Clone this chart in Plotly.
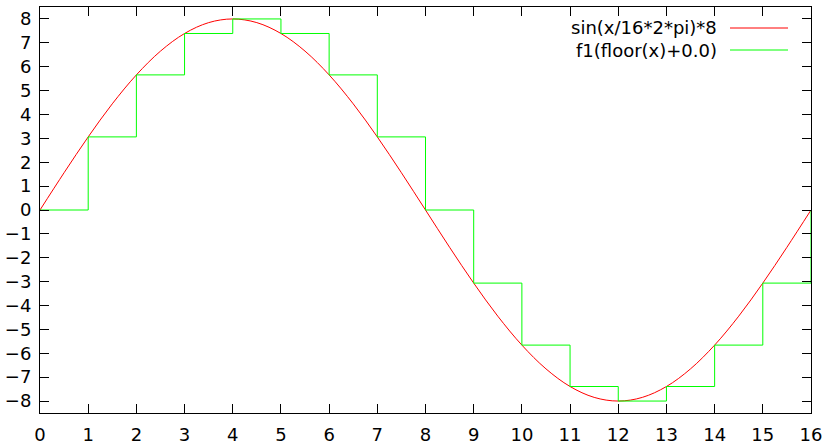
import plotly.graph_objects as go

# sine curve samples (x step 0.5)
sine_x = [i * 0.5 for i in range(33)]
sine_y = [0, 1.561, 3.061, 4.445, 5.657, 6.652, 7.391, 7.846, 8,
          7.846, 7.391, 6.652, 5.657, 4.445, 3.061, 1.561, 0,
          -1.561, -3.061, -4.445, -5.657, -6.652, -7.391, -7.846, -8,
          -7.846, -7.391, -6.652, -5.657, -4.445, -3.061, -1.561, 0]

# step values f1(floor(x))
step_x = list(range(17))
step_y = [0, 3.061, 5.657, 7.391, 8, 7.391, 5.657, 3.061, 0,
          -3.061, -5.657, -7.391, -8, -7.391, -5.657, -3.061, 0]

legend_labels = ["sin(x/16*2*pi)*8", "f1(floor(x)+0.0)"]
colors = ["#ff0000", "#00ff00"]

x_ticks = list(range(0, 17))
y_ticks = list(range(-8, 9))

fig = go.Figure()
fig.add_trace(go.Scatter(x=sine_x, y=sine_y, mode="lines",
                         line=dict(color=colors[0], width=1, shape="spline", smoothing=1.0),
                         showlegend=False, hoverinfo="skip"))
fig.add_trace(go.Scatter(x=step_x, y=step_y, mode="lines",
                         line=dict(color=colors[1], width=1, shape="hv"),
                         showlegend=False, hoverinfo="skip"))

font = dict(family="DejaVu Sans", size=18, color="black")

# manual gnuplot-style legend
for i, (lab, col) in enumerate(zip(legend_labels, colors)):
    ypix = 28 + 22 * i
    yp = 1 - (ypix - 7) / (413 - 7)
    fig.add_annotation(x=(719 - 40) / (811 - 40), y=yp, xref="paper", yref="paper",
                       text=lab, showarrow=False, xanchor="right", yanchor="middle",
                       font=font)
    fig.add_shape(type="line", xref="paper", yref="paper",
                  x0=(730 - 40) / (811 - 40), x1=(788 - 40) / (811 - 40), y0=yp, y1=yp,
                  line=dict(color=col, width=1))

axis_common = dict(showgrid=False, zeroline=False, ticks="inside", ticklen=9,
                   tickwidth=1, tickcolor="black", showline=True, linecolor="black",
                   linewidth=1, mirror="allticks", tickfont=font, automargin=False,
                   layer="above traces")

fig.update_xaxes(range=[0, 16], tickvals=x_ticks, ticklabelstandoff=5, **axis_common)
fig.update_yaxes(range=[-8.5, 8.5], tickvals=y_ticks, ticklabelstandoff=4, **axis_common)

fig.update_layout(width=829, height=445, margin=dict(l=40, r=18, t=7, b=32),
                  plot_bgcolor="white", paper_bgcolor="white")

fig.write_html("out.html", config={"displayModeBar": False},
               post_script="document.body.style.margin='0';")
